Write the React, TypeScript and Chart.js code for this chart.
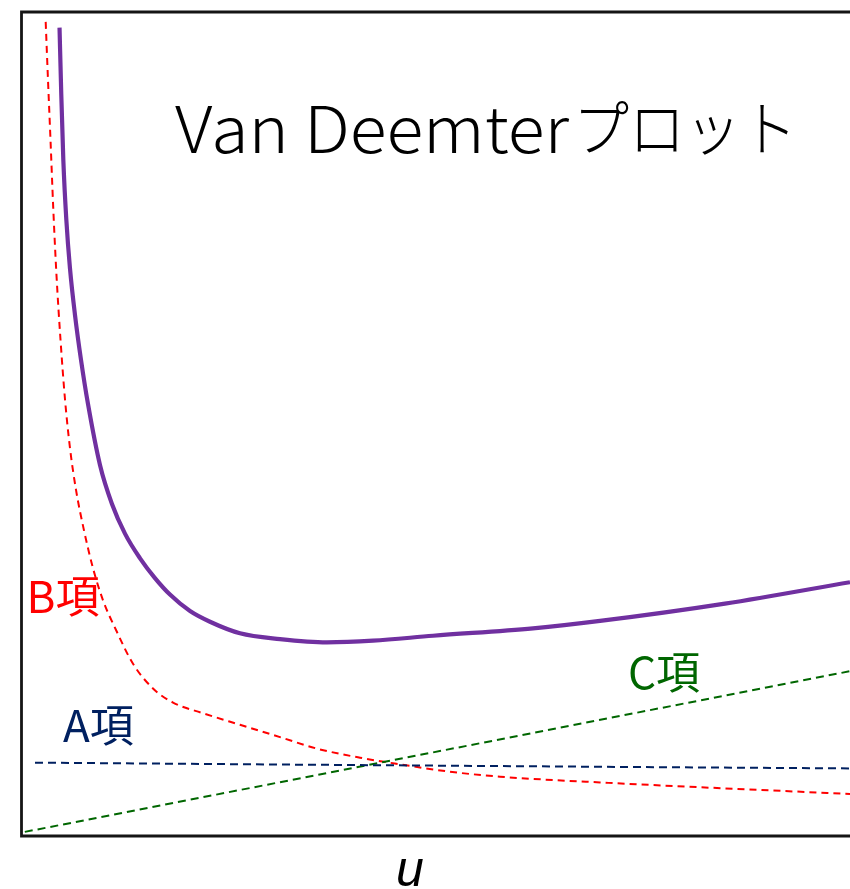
import React, { useEffect, useRef } from "react";
import { Chart, registerables } from "chart.js";

Chart.register(...registerables);

// Van Deemter curve (total plate height H vs linear velocity u)
const hU = [0.459, 0.48, 0.505, 0.541, 0.585, 0.646, 0.718, 0.803, 0.948, 1.092, 1.249, 1.431, 1.611, 1.792, 2.034, 2.275, 2.637, 3.12, 3.687, 4.243, 4.967, 6.174, 6.983, 8.491, 10.0];
const hH = [9.81, 9.0, 8.2, 7.48, 6.89, 6.32, 5.78, 5.24, 4.5, 4.03, 3.67, 3.37, 3.13, 2.93, 2.73, 2.6, 2.46, 2.39, 2.35, 2.37, 2.43, 2.52, 2.61, 2.82, 3.08];

// B term (longitudinal diffusion)
const bU = [0.292, 0.32, 0.35, 0.384, 0.422, 0.471, 0.525, 0.585, 0.658, 0.754, 0.863, 0.984, 1.141, 1.346, 1.587, 1.829, 2.191, 2.637, 3.12, 3.567, 4.086, 4.568, 5.172, 5.776, 6.983, 10.0];
const bH = [9.88, 9.17, 8.45, 7.6, 6.81, 6.02, 5.3, 4.71, 4.2, 3.71, 3.25, 2.86, 2.5, 2.09, 1.79, 1.62, 1.49, 1.35, 1.2, 1.06, 0.95, 0.87, 0.78, 0.72, 0.65, 0.51];

// A term (eddy diffusion)
const aU = [0.163, 2.758, 6.983, 10.0];
const aH = [0.89, 0.87, 0.84, 0.82];

// C term (mass transfer)
const cU = [0.04, 10.0];
const cH = [0.05, 2.0];

const titleLatin = "Van Deemter";
const titleKana = "プロット";
const labelB = "B項";
const labelA = "A項";
const labelC = "C項";
const axisLabel = "u";

const FONT = "'Noto Sans CJK JP', 'Noto Sans', sans-serif";

const pts = (xs: number[], ys: number[]) => xs.map((x, i) => ({ x, y: ys[i] }));

const decorPlugin = {
  id: "decor",
  afterDatasetsDraw(chart: any) {
    const ctx: CanvasRenderingContext2D = chart.ctx;
    const { left, top, right, bottom } = chart.chartArea;
    ctx.save();
    // frame: left, top, bottom (right side runs off the page)
    ctx.strokeStyle = "#151515";
    ctx.lineWidth = 2.8;
    ctx.lineCap = "square";
    ctx.beginPath();
    ctx.moveTo(right + 5, top);
    ctx.lineTo(left, top);
    ctx.lineTo(left, bottom);
    ctx.lineTo(right + 5, bottom);
    ctx.stroke();

    // title inside plot
    ctx.fillStyle = "#000";
    ctx.textBaseline = "alphabetic";
    ctx.textAlign = "left";
    ctx.font = `300 64px ${FONT}`;
    const w1 = ctx.measureText(titleLatin).width;
    ctx.save();
    ctx.translate(175, 153);
    ctx.scale(394 / w1, 1);
    ctx.fillText(titleLatin, 0, 0);
    ctx.restore();
    ctx.font = `300 60px ${FONT}`;
    const w2 = ctx.measureText(titleKana).width;
    ctx.save();
    ctx.translate(573, 151);
    ctx.scale(224 / w2, 1);
    ctx.fillText(titleKana, 0, 0);
    ctx.restore();

    // term labels
    ctx.font = `44px ${FONT}`;
    ctx.fillStyle = "#FF0000";
    ctx.fillText(labelB, 26.5, 613);
    ctx.fillStyle = "#002060";
    ctx.fillText(labelA, 63, 741.5);
    ctx.fillStyle = "#006600";
    ctx.fillText(labelC, 628, 689);

    // axis label
    ctx.fillStyle = "#000";
    ctx.textAlign = "center";
    ctx.font = `italic 50px 'Liberation Sans', Arial, sans-serif`;
    ctx.fillText(axisLabel, 410, 886);
    ctx.restore();
  },
};

export default function App() {
  const ref = useRef<HTMLCanvasElement | null>(null);
  useEffect(() => {
    const canvas = ref.current;
    if (!canvas) return;
    const chart = new Chart(canvas, {
      type: "line",
      data: {
        datasets: [
          {
            label: "A",
            data: pts(aU, aH),
            borderColor: "#002060",
            borderWidth: 2,
            borderDash: [8, 5],
            pointRadius: 0,
            fill: false,
          },
          {
            label: "C",
            data: pts(cU, cH),
            borderColor: "#006600",
            borderWidth: 2,
            borderDash: [8, 5],
            pointRadius: 0,
            fill: false,
          },
          {
            label: "B",
            data: pts(bU, bH),
            borderColor: "#FF0000",
            borderWidth: 2,
            borderDash: [7, 5],
            pointRadius: 0,
            fill: false,
            cubicInterpolationMode: "monotone",
          },
          {
            label: "H",
            data: pts(hU, hH),
            borderColor: "#7030A0",
            borderWidth: 4.2,
            pointRadius: 0,
            fill: false,
            cubicInterpolationMode: "monotone",
          },
        ],
      },
      options: {
        responsive: false,
        maintainAspectRatio: false,
        animation: false,
        layout: { padding: { left: 21.5, top: 12, right: 0, bottom: 53 } },
        scales: {
          x: { type: "linear", min: 0, max: 10, display: false },
          y: { type: "linear", min: 0, max: 10, display: false },
        },
        plugins: {
          legend: { display: false },
          tooltip: { enabled: false },
          title: { display: false },
        },
      },
      plugins: [decorPlugin],
    });
    return () => chart.destroy();
  }, []);
  return (
    <div style={{ position: "fixed", left: 0, top: 0, width: 850, height: 889, overflow: "hidden" }}>
      <canvas ref={ref} width={850} height={889} style={{ display: "block" }} />
    </div>
  );
}
